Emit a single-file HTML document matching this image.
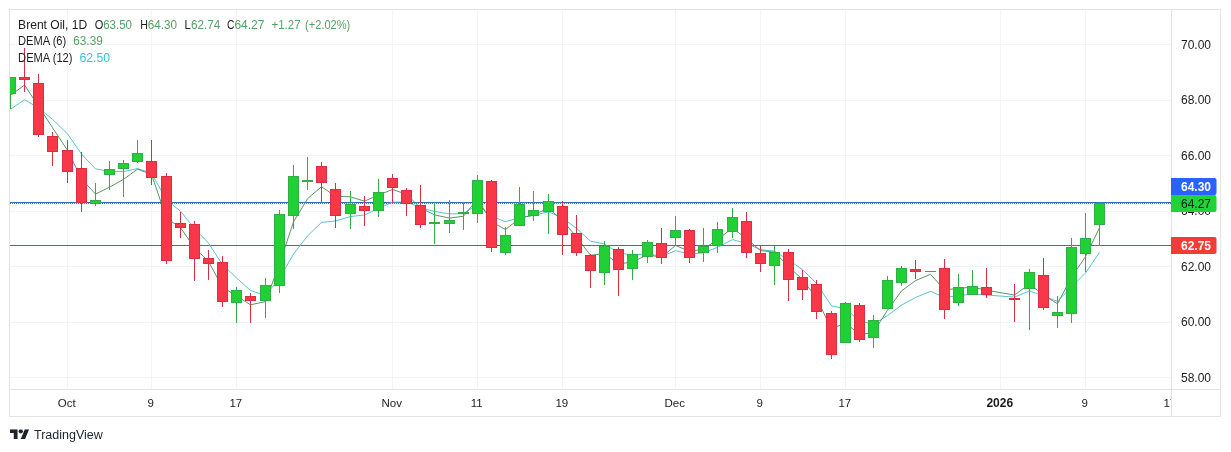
<!DOCTYPE html><html><head><meta charset="utf-8"><title>Brent Oil</title><style>html,body{margin:0;padding:0;background:#fff;overflow:hidden}body{width:1231px;height:452px;position:relative}</style></head><body><svg width="1231" height="452" viewBox="0 0 1231 452" style="position:absolute;left:0;top:0" shape-rendering="crispEdges" font-family="'Liberation Sans', Arial, sans-serif">
<rect x="0" y="0" width="1231" height="452" fill="#fff"/>
<rect x="10" y="44" width="1161" height="1" fill="#f4f4f6"/>
<rect x="10" y="100" width="1161" height="1" fill="#f4f4f6"/>
<rect x="10" y="155" width="1161" height="1" fill="#f4f4f6"/>
<rect x="10" y="211" width="1161" height="1" fill="#f4f4f6"/>
<rect x="10" y="266" width="1161" height="1" fill="#f4f4f6"/>
<rect x="10" y="322" width="1161" height="1" fill="#f4f4f6"/>
<rect x="10" y="377" width="1161" height="1" fill="#f4f4f6"/>
<rect x="67" y="10" width="1" height="379" fill="#f4f4f6"/>
<rect x="151" y="10" width="1" height="379" fill="#f4f4f6"/>
<rect x="236" y="10" width="1" height="379" fill="#f4f4f6"/>
<rect x="392" y="10" width="1" height="379" fill="#f4f4f6"/>
<rect x="477" y="10" width="1" height="379" fill="#f4f4f6"/>
<rect x="562" y="10" width="1" height="379" fill="#f4f4f6"/>
<rect x="675" y="10" width="1" height="379" fill="#f4f4f6"/>
<rect x="760" y="10" width="1" height="379" fill="#f4f4f6"/>
<rect x="845" y="10" width="1" height="379" fill="#f4f4f6"/>
<rect x="1000" y="10" width="1" height="379" fill="#f4f4f6"/>
<rect x="1085" y="10" width="1" height="379" fill="#f4f4f6"/>
<rect x="9" y="9" width="1212" height="1" fill="#e4e4e6"/>
<rect x="9" y="416" width="1212" height="1" fill="#e4e4e6"/>
<rect x="9" y="9" width="1" height="408" fill="#e4e4e6"/>
<rect x="1220" y="9" width="1" height="408" fill="#e4e4e6"/>
<rect x="1171" y="9" width="1" height="408" fill="#e4e4e6"/>
<rect x="9" y="389" width="1212" height="1" fill="#e4e4e6"/>
<clipPath id="cp"><rect x="10" y="10" width="1161" height="379"/></clipPath>
<g clip-path="url(#cp)">
<rect x="10" y="245" width="1161" height="1" fill="#d8383c"/>
<rect x="10" y="202" width="1161" height="1" fill="#2f6fc0"/>
<rect x="10" y="203" width="1" height="1" fill="#2a9d6a"/><rect x="12" y="203" width="1" height="1" fill="#2a9d6a"/><rect x="14" y="203" width="1" height="1" fill="#2a9d6a"/><rect x="16" y="203" width="1" height="1" fill="#2a9d6a"/><rect x="18" y="203" width="1" height="1" fill="#2a9d6a"/><rect x="20" y="203" width="1" height="1" fill="#2a9d6a"/><rect x="22" y="203" width="1" height="1" fill="#2a9d6a"/><rect x="24" y="203" width="1" height="1" fill="#2a9d6a"/><rect x="26" y="203" width="1" height="1" fill="#2a9d6a"/><rect x="28" y="203" width="1" height="1" fill="#2a9d6a"/><rect x="30" y="203" width="1" height="1" fill="#2a9d6a"/><rect x="32" y="203" width="1" height="1" fill="#2a9d6a"/><rect x="34" y="203" width="1" height="1" fill="#2a9d6a"/><rect x="36" y="203" width="1" height="1" fill="#2a9d6a"/><rect x="38" y="203" width="1" height="1" fill="#2a9d6a"/><rect x="40" y="203" width="1" height="1" fill="#2a9d6a"/><rect x="42" y="203" width="1" height="1" fill="#2a9d6a"/><rect x="44" y="203" width="1" height="1" fill="#2a9d6a"/><rect x="46" y="203" width="1" height="1" fill="#2a9d6a"/><rect x="48" y="203" width="1" height="1" fill="#2a9d6a"/><rect x="50" y="203" width="1" height="1" fill="#2a9d6a"/><rect x="52" y="203" width="1" height="1" fill="#2a9d6a"/><rect x="54" y="203" width="1" height="1" fill="#2a9d6a"/><rect x="56" y="203" width="1" height="1" fill="#2a9d6a"/><rect x="58" y="203" width="1" height="1" fill="#2a9d6a"/><rect x="60" y="203" width="1" height="1" fill="#2a9d6a"/><rect x="62" y="203" width="1" height="1" fill="#2a9d6a"/><rect x="64" y="203" width="1" height="1" fill="#2a9d6a"/><rect x="66" y="203" width="1" height="1" fill="#2a9d6a"/><rect x="68" y="203" width="1" height="1" fill="#2a9d6a"/><rect x="70" y="203" width="1" height="1" fill="#2a9d6a"/><rect x="72" y="203" width="1" height="1" fill="#2a9d6a"/><rect x="74" y="203" width="1" height="1" fill="#2a9d6a"/><rect x="76" y="203" width="1" height="1" fill="#2a9d6a"/><rect x="78" y="203" width="1" height="1" fill="#2a9d6a"/><rect x="80" y="203" width="1" height="1" fill="#2a9d6a"/><rect x="82" y="203" width="1" height="1" fill="#2a9d6a"/><rect x="84" y="203" width="1" height="1" fill="#2a9d6a"/><rect x="86" y="203" width="1" height="1" fill="#2a9d6a"/><rect x="88" y="203" width="1" height="1" fill="#2a9d6a"/><rect x="90" y="203" width="1" height="1" fill="#2a9d6a"/><rect x="92" y="203" width="1" height="1" fill="#2a9d6a"/><rect x="94" y="203" width="1" height="1" fill="#2a9d6a"/><rect x="96" y="203" width="1" height="1" fill="#2a9d6a"/><rect x="98" y="203" width="1" height="1" fill="#2a9d6a"/><rect x="100" y="203" width="1" height="1" fill="#2a9d6a"/><rect x="102" y="203" width="1" height="1" fill="#2a9d6a"/><rect x="104" y="203" width="1" height="1" fill="#2a9d6a"/><rect x="106" y="203" width="1" height="1" fill="#2a9d6a"/><rect x="108" y="203" width="1" height="1" fill="#2a9d6a"/><rect x="110" y="203" width="1" height="1" fill="#2a9d6a"/><rect x="112" y="203" width="1" height="1" fill="#2a9d6a"/><rect x="114" y="203" width="1" height="1" fill="#2a9d6a"/><rect x="116" y="203" width="1" height="1" fill="#2a9d6a"/><rect x="118" y="203" width="1" height="1" fill="#2a9d6a"/><rect x="120" y="203" width="1" height="1" fill="#2a9d6a"/><rect x="122" y="203" width="1" height="1" fill="#2a9d6a"/><rect x="124" y="203" width="1" height="1" fill="#2a9d6a"/><rect x="126" y="203" width="1" height="1" fill="#2a9d6a"/><rect x="128" y="203" width="1" height="1" fill="#2a9d6a"/><rect x="130" y="203" width="1" height="1" fill="#2a9d6a"/><rect x="132" y="203" width="1" height="1" fill="#2a9d6a"/><rect x="134" y="203" width="1" height="1" fill="#2a9d6a"/><rect x="136" y="203" width="1" height="1" fill="#2a9d6a"/><rect x="138" y="203" width="1" height="1" fill="#2a9d6a"/><rect x="140" y="203" width="1" height="1" fill="#2a9d6a"/><rect x="142" y="203" width="1" height="1" fill="#2a9d6a"/><rect x="144" y="203" width="1" height="1" fill="#2a9d6a"/><rect x="146" y="203" width="1" height="1" fill="#2a9d6a"/><rect x="148" y="203" width="1" height="1" fill="#2a9d6a"/><rect x="150" y="203" width="1" height="1" fill="#2a9d6a"/><rect x="152" y="203" width="1" height="1" fill="#2a9d6a"/><rect x="154" y="203" width="1" height="1" fill="#2a9d6a"/><rect x="156" y="203" width="1" height="1" fill="#2a9d6a"/><rect x="158" y="203" width="1" height="1" fill="#2a9d6a"/><rect x="160" y="203" width="1" height="1" fill="#2a9d6a"/><rect x="162" y="203" width="1" height="1" fill="#2a9d6a"/><rect x="164" y="203" width="1" height="1" fill="#2a9d6a"/><rect x="166" y="203" width="1" height="1" fill="#2a9d6a"/><rect x="168" y="203" width="1" height="1" fill="#2a9d6a"/><rect x="170" y="203" width="1" height="1" fill="#2a9d6a"/><rect x="172" y="203" width="1" height="1" fill="#2a9d6a"/><rect x="174" y="203" width="1" height="1" fill="#2a9d6a"/><rect x="176" y="203" width="1" height="1" fill="#2a9d6a"/><rect x="178" y="203" width="1" height="1" fill="#2a9d6a"/><rect x="180" y="203" width="1" height="1" fill="#2a9d6a"/><rect x="182" y="203" width="1" height="1" fill="#2a9d6a"/><rect x="184" y="203" width="1" height="1" fill="#2a9d6a"/><rect x="186" y="203" width="1" height="1" fill="#2a9d6a"/><rect x="188" y="203" width="1" height="1" fill="#2a9d6a"/><rect x="190" y="203" width="1" height="1" fill="#2a9d6a"/><rect x="192" y="203" width="1" height="1" fill="#2a9d6a"/><rect x="194" y="203" width="1" height="1" fill="#2a9d6a"/><rect x="196" y="203" width="1" height="1" fill="#2a9d6a"/><rect x="198" y="203" width="1" height="1" fill="#2a9d6a"/><rect x="200" y="203" width="1" height="1" fill="#2a9d6a"/><rect x="202" y="203" width="1" height="1" fill="#2a9d6a"/><rect x="204" y="203" width="1" height="1" fill="#2a9d6a"/><rect x="206" y="203" width="1" height="1" fill="#2a9d6a"/><rect x="208" y="203" width="1" height="1" fill="#2a9d6a"/><rect x="210" y="203" width="1" height="1" fill="#2a9d6a"/><rect x="212" y="203" width="1" height="1" fill="#2a9d6a"/><rect x="214" y="203" width="1" height="1" fill="#2a9d6a"/><rect x="216" y="203" width="1" height="1" fill="#2a9d6a"/><rect x="218" y="203" width="1" height="1" fill="#2a9d6a"/><rect x="220" y="203" width="1" height="1" fill="#2a9d6a"/><rect x="222" y="203" width="1" height="1" fill="#2a9d6a"/><rect x="224" y="203" width="1" height="1" fill="#2a9d6a"/><rect x="226" y="203" width="1" height="1" fill="#2a9d6a"/><rect x="228" y="203" width="1" height="1" fill="#2a9d6a"/><rect x="230" y="203" width="1" height="1" fill="#2a9d6a"/><rect x="232" y="203" width="1" height="1" fill="#2a9d6a"/><rect x="234" y="203" width="1" height="1" fill="#2a9d6a"/><rect x="236" y="203" width="1" height="1" fill="#2a9d6a"/><rect x="238" y="203" width="1" height="1" fill="#2a9d6a"/><rect x="240" y="203" width="1" height="1" fill="#2a9d6a"/><rect x="242" y="203" width="1" height="1" fill="#2a9d6a"/><rect x="244" y="203" width="1" height="1" fill="#2a9d6a"/><rect x="246" y="203" width="1" height="1" fill="#2a9d6a"/><rect x="248" y="203" width="1" height="1" fill="#2a9d6a"/><rect x="250" y="203" width="1" height="1" fill="#2a9d6a"/><rect x="252" y="203" width="1" height="1" fill="#2a9d6a"/><rect x="254" y="203" width="1" height="1" fill="#2a9d6a"/><rect x="256" y="203" width="1" height="1" fill="#2a9d6a"/><rect x="258" y="203" width="1" height="1" fill="#2a9d6a"/><rect x="260" y="203" width="1" height="1" fill="#2a9d6a"/><rect x="262" y="203" width="1" height="1" fill="#2a9d6a"/><rect x="264" y="203" width="1" height="1" fill="#2a9d6a"/><rect x="266" y="203" width="1" height="1" fill="#2a9d6a"/><rect x="268" y="203" width="1" height="1" fill="#2a9d6a"/><rect x="270" y="203" width="1" height="1" fill="#2a9d6a"/><rect x="272" y="203" width="1" height="1" fill="#2a9d6a"/><rect x="274" y="203" width="1" height="1" fill="#2a9d6a"/><rect x="276" y="203" width="1" height="1" fill="#2a9d6a"/><rect x="278" y="203" width="1" height="1" fill="#2a9d6a"/><rect x="280" y="203" width="1" height="1" fill="#2a9d6a"/><rect x="282" y="203" width="1" height="1" fill="#2a9d6a"/><rect x="284" y="203" width="1" height="1" fill="#2a9d6a"/><rect x="286" y="203" width="1" height="1" fill="#2a9d6a"/><rect x="288" y="203" width="1" height="1" fill="#2a9d6a"/><rect x="290" y="203" width="1" height="1" fill="#2a9d6a"/><rect x="292" y="203" width="1" height="1" fill="#2a9d6a"/><rect x="294" y="203" width="1" height="1" fill="#2a9d6a"/><rect x="296" y="203" width="1" height="1" fill="#2a9d6a"/><rect x="298" y="203" width="1" height="1" fill="#2a9d6a"/><rect x="300" y="203" width="1" height="1" fill="#2a9d6a"/><rect x="302" y="203" width="1" height="1" fill="#2a9d6a"/><rect x="304" y="203" width="1" height="1" fill="#2a9d6a"/><rect x="306" y="203" width="1" height="1" fill="#2a9d6a"/><rect x="308" y="203" width="1" height="1" fill="#2a9d6a"/><rect x="310" y="203" width="1" height="1" fill="#2a9d6a"/><rect x="312" y="203" width="1" height="1" fill="#2a9d6a"/><rect x="314" y="203" width="1" height="1" fill="#2a9d6a"/><rect x="316" y="203" width="1" height="1" fill="#2a9d6a"/><rect x="318" y="203" width="1" height="1" fill="#2a9d6a"/><rect x="320" y="203" width="1" height="1" fill="#2a9d6a"/><rect x="322" y="203" width="1" height="1" fill="#2a9d6a"/><rect x="324" y="203" width="1" height="1" fill="#2a9d6a"/><rect x="326" y="203" width="1" height="1" fill="#2a9d6a"/><rect x="328" y="203" width="1" height="1" fill="#2a9d6a"/><rect x="330" y="203" width="1" height="1" fill="#2a9d6a"/><rect x="332" y="203" width="1" height="1" fill="#2a9d6a"/><rect x="334" y="203" width="1" height="1" fill="#2a9d6a"/><rect x="336" y="203" width="1" height="1" fill="#2a9d6a"/><rect x="338" y="203" width="1" height="1" fill="#2a9d6a"/><rect x="340" y="203" width="1" height="1" fill="#2a9d6a"/><rect x="342" y="203" width="1" height="1" fill="#2a9d6a"/><rect x="344" y="203" width="1" height="1" fill="#2a9d6a"/><rect x="346" y="203" width="1" height="1" fill="#2a9d6a"/><rect x="348" y="203" width="1" height="1" fill="#2a9d6a"/><rect x="350" y="203" width="1" height="1" fill="#2a9d6a"/><rect x="352" y="203" width="1" height="1" fill="#2a9d6a"/><rect x="354" y="203" width="1" height="1" fill="#2a9d6a"/><rect x="356" y="203" width="1" height="1" fill="#2a9d6a"/><rect x="358" y="203" width="1" height="1" fill="#2a9d6a"/><rect x="360" y="203" width="1" height="1" fill="#2a9d6a"/><rect x="362" y="203" width="1" height="1" fill="#2a9d6a"/><rect x="364" y="203" width="1" height="1" fill="#2a9d6a"/><rect x="366" y="203" width="1" height="1" fill="#2a9d6a"/><rect x="368" y="203" width="1" height="1" fill="#2a9d6a"/><rect x="370" y="203" width="1" height="1" fill="#2a9d6a"/><rect x="372" y="203" width="1" height="1" fill="#2a9d6a"/><rect x="374" y="203" width="1" height="1" fill="#2a9d6a"/><rect x="376" y="203" width="1" height="1" fill="#2a9d6a"/><rect x="378" y="203" width="1" height="1" fill="#2a9d6a"/><rect x="380" y="203" width="1" height="1" fill="#2a9d6a"/><rect x="382" y="203" width="1" height="1" fill="#2a9d6a"/><rect x="384" y="203" width="1" height="1" fill="#2a9d6a"/><rect x="386" y="203" width="1" height="1" fill="#2a9d6a"/><rect x="388" y="203" width="1" height="1" fill="#2a9d6a"/><rect x="390" y="203" width="1" height="1" fill="#2a9d6a"/><rect x="392" y="203" width="1" height="1" fill="#2a9d6a"/><rect x="394" y="203" width="1" height="1" fill="#2a9d6a"/><rect x="396" y="203" width="1" height="1" fill="#2a9d6a"/><rect x="398" y="203" width="1" height="1" fill="#2a9d6a"/><rect x="400" y="203" width="1" height="1" fill="#2a9d6a"/><rect x="402" y="203" width="1" height="1" fill="#2a9d6a"/><rect x="404" y="203" width="1" height="1" fill="#2a9d6a"/><rect x="406" y="203" width="1" height="1" fill="#2a9d6a"/><rect x="408" y="203" width="1" height="1" fill="#2a9d6a"/><rect x="410" y="203" width="1" height="1" fill="#2a9d6a"/><rect x="412" y="203" width="1" height="1" fill="#2a9d6a"/><rect x="414" y="203" width="1" height="1" fill="#2a9d6a"/><rect x="416" y="203" width="1" height="1" fill="#2a9d6a"/><rect x="418" y="203" width="1" height="1" fill="#2a9d6a"/><rect x="420" y="203" width="1" height="1" fill="#2a9d6a"/><rect x="422" y="203" width="1" height="1" fill="#2a9d6a"/><rect x="424" y="203" width="1" height="1" fill="#2a9d6a"/><rect x="426" y="203" width="1" height="1" fill="#2a9d6a"/><rect x="428" y="203" width="1" height="1" fill="#2a9d6a"/><rect x="430" y="203" width="1" height="1" fill="#2a9d6a"/><rect x="432" y="203" width="1" height="1" fill="#2a9d6a"/><rect x="434" y="203" width="1" height="1" fill="#2a9d6a"/><rect x="436" y="203" width="1" height="1" fill="#2a9d6a"/><rect x="438" y="203" width="1" height="1" fill="#2a9d6a"/><rect x="440" y="203" width="1" height="1" fill="#2a9d6a"/><rect x="442" y="203" width="1" height="1" fill="#2a9d6a"/><rect x="444" y="203" width="1" height="1" fill="#2a9d6a"/><rect x="446" y="203" width="1" height="1" fill="#2a9d6a"/><rect x="448" y="203" width="1" height="1" fill="#2a9d6a"/><rect x="450" y="203" width="1" height="1" fill="#2a9d6a"/><rect x="452" y="203" width="1" height="1" fill="#2a9d6a"/><rect x="454" y="203" width="1" height="1" fill="#2a9d6a"/><rect x="456" y="203" width="1" height="1" fill="#2a9d6a"/><rect x="458" y="203" width="1" height="1" fill="#2a9d6a"/><rect x="460" y="203" width="1" height="1" fill="#2a9d6a"/><rect x="462" y="203" width="1" height="1" fill="#2a9d6a"/><rect x="464" y="203" width="1" height="1" fill="#2a9d6a"/><rect x="466" y="203" width="1" height="1" fill="#2a9d6a"/><rect x="468" y="203" width="1" height="1" fill="#2a9d6a"/><rect x="470" y="203" width="1" height="1" fill="#2a9d6a"/><rect x="472" y="203" width="1" height="1" fill="#2a9d6a"/><rect x="474" y="203" width="1" height="1" fill="#2a9d6a"/><rect x="476" y="203" width="1" height="1" fill="#2a9d6a"/><rect x="478" y="203" width="1" height="1" fill="#2a9d6a"/><rect x="480" y="203" width="1" height="1" fill="#2a9d6a"/><rect x="482" y="203" width="1" height="1" fill="#2a9d6a"/><rect x="484" y="203" width="1" height="1" fill="#2a9d6a"/><rect x="486" y="203" width="1" height="1" fill="#2a9d6a"/><rect x="488" y="203" width="1" height="1" fill="#2a9d6a"/><rect x="490" y="203" width="1" height="1" fill="#2a9d6a"/><rect x="492" y="203" width="1" height="1" fill="#2a9d6a"/><rect x="494" y="203" width="1" height="1" fill="#2a9d6a"/><rect x="496" y="203" width="1" height="1" fill="#2a9d6a"/><rect x="498" y="203" width="1" height="1" fill="#2a9d6a"/><rect x="500" y="203" width="1" height="1" fill="#2a9d6a"/><rect x="502" y="203" width="1" height="1" fill="#2a9d6a"/><rect x="504" y="203" width="1" height="1" fill="#2a9d6a"/><rect x="506" y="203" width="1" height="1" fill="#2a9d6a"/><rect x="508" y="203" width="1" height="1" fill="#2a9d6a"/><rect x="510" y="203" width="1" height="1" fill="#2a9d6a"/><rect x="512" y="203" width="1" height="1" fill="#2a9d6a"/><rect x="514" y="203" width="1" height="1" fill="#2a9d6a"/><rect x="516" y="203" width="1" height="1" fill="#2a9d6a"/><rect x="518" y="203" width="1" height="1" fill="#2a9d6a"/><rect x="520" y="203" width="1" height="1" fill="#2a9d6a"/><rect x="522" y="203" width="1" height="1" fill="#2a9d6a"/><rect x="524" y="203" width="1" height="1" fill="#2a9d6a"/><rect x="526" y="203" width="1" height="1" fill="#2a9d6a"/><rect x="528" y="203" width="1" height="1" fill="#2a9d6a"/><rect x="530" y="203" width="1" height="1" fill="#2a9d6a"/><rect x="532" y="203" width="1" height="1" fill="#2a9d6a"/><rect x="534" y="203" width="1" height="1" fill="#2a9d6a"/><rect x="536" y="203" width="1" height="1" fill="#2a9d6a"/><rect x="538" y="203" width="1" height="1" fill="#2a9d6a"/><rect x="540" y="203" width="1" height="1" fill="#2a9d6a"/><rect x="542" y="203" width="1" height="1" fill="#2a9d6a"/><rect x="544" y="203" width="1" height="1" fill="#2a9d6a"/><rect x="546" y="203" width="1" height="1" fill="#2a9d6a"/><rect x="548" y="203" width="1" height="1" fill="#2a9d6a"/><rect x="550" y="203" width="1" height="1" fill="#2a9d6a"/><rect x="552" y="203" width="1" height="1" fill="#2a9d6a"/><rect x="554" y="203" width="1" height="1" fill="#2a9d6a"/><rect x="556" y="203" width="1" height="1" fill="#2a9d6a"/><rect x="558" y="203" width="1" height="1" fill="#2a9d6a"/><rect x="560" y="203" width="1" height="1" fill="#2a9d6a"/><rect x="562" y="203" width="1" height="1" fill="#2a9d6a"/><rect x="564" y="203" width="1" height="1" fill="#2a9d6a"/><rect x="566" y="203" width="1" height="1" fill="#2a9d6a"/><rect x="568" y="203" width="1" height="1" fill="#2a9d6a"/><rect x="570" y="203" width="1" height="1" fill="#2a9d6a"/><rect x="572" y="203" width="1" height="1" fill="#2a9d6a"/><rect x="574" y="203" width="1" height="1" fill="#2a9d6a"/><rect x="576" y="203" width="1" height="1" fill="#2a9d6a"/><rect x="578" y="203" width="1" height="1" fill="#2a9d6a"/><rect x="580" y="203" width="1" height="1" fill="#2a9d6a"/><rect x="582" y="203" width="1" height="1" fill="#2a9d6a"/><rect x="584" y="203" width="1" height="1" fill="#2a9d6a"/><rect x="586" y="203" width="1" height="1" fill="#2a9d6a"/><rect x="588" y="203" width="1" height="1" fill="#2a9d6a"/><rect x="590" y="203" width="1" height="1" fill="#2a9d6a"/><rect x="592" y="203" width="1" height="1" fill="#2a9d6a"/><rect x="594" y="203" width="1" height="1" fill="#2a9d6a"/><rect x="596" y="203" width="1" height="1" fill="#2a9d6a"/><rect x="598" y="203" width="1" height="1" fill="#2a9d6a"/><rect x="600" y="203" width="1" height="1" fill="#2a9d6a"/><rect x="602" y="203" width="1" height="1" fill="#2a9d6a"/><rect x="604" y="203" width="1" height="1" fill="#2a9d6a"/><rect x="606" y="203" width="1" height="1" fill="#2a9d6a"/><rect x="608" y="203" width="1" height="1" fill="#2a9d6a"/><rect x="610" y="203" width="1" height="1" fill="#2a9d6a"/><rect x="612" y="203" width="1" height="1" fill="#2a9d6a"/><rect x="614" y="203" width="1" height="1" fill="#2a9d6a"/><rect x="616" y="203" width="1" height="1" fill="#2a9d6a"/><rect x="618" y="203" width="1" height="1" fill="#2a9d6a"/><rect x="620" y="203" width="1" height="1" fill="#2a9d6a"/><rect x="622" y="203" width="1" height="1" fill="#2a9d6a"/><rect x="624" y="203" width="1" height="1" fill="#2a9d6a"/><rect x="626" y="203" width="1" height="1" fill="#2a9d6a"/><rect x="628" y="203" width="1" height="1" fill="#2a9d6a"/><rect x="630" y="203" width="1" height="1" fill="#2a9d6a"/><rect x="632" y="203" width="1" height="1" fill="#2a9d6a"/><rect x="634" y="203" width="1" height="1" fill="#2a9d6a"/><rect x="636" y="203" width="1" height="1" fill="#2a9d6a"/><rect x="638" y="203" width="1" height="1" fill="#2a9d6a"/><rect x="640" y="203" width="1" height="1" fill="#2a9d6a"/><rect x="642" y="203" width="1" height="1" fill="#2a9d6a"/><rect x="644" y="203" width="1" height="1" fill="#2a9d6a"/><rect x="646" y="203" width="1" height="1" fill="#2a9d6a"/><rect x="648" y="203" width="1" height="1" fill="#2a9d6a"/><rect x="650" y="203" width="1" height="1" fill="#2a9d6a"/><rect x="652" y="203" width="1" height="1" fill="#2a9d6a"/><rect x="654" y="203" width="1" height="1" fill="#2a9d6a"/><rect x="656" y="203" width="1" height="1" fill="#2a9d6a"/><rect x="658" y="203" width="1" height="1" fill="#2a9d6a"/><rect x="660" y="203" width="1" height="1" fill="#2a9d6a"/><rect x="662" y="203" width="1" height="1" fill="#2a9d6a"/><rect x="664" y="203" width="1" height="1" fill="#2a9d6a"/><rect x="666" y="203" width="1" height="1" fill="#2a9d6a"/><rect x="668" y="203" width="1" height="1" fill="#2a9d6a"/><rect x="670" y="203" width="1" height="1" fill="#2a9d6a"/><rect x="672" y="203" width="1" height="1" fill="#2a9d6a"/><rect x="674" y="203" width="1" height="1" fill="#2a9d6a"/><rect x="676" y="203" width="1" height="1" fill="#2a9d6a"/><rect x="678" y="203" width="1" height="1" fill="#2a9d6a"/><rect x="680" y="203" width="1" height="1" fill="#2a9d6a"/><rect x="682" y="203" width="1" height="1" fill="#2a9d6a"/><rect x="684" y="203" width="1" height="1" fill="#2a9d6a"/><rect x="686" y="203" width="1" height="1" fill="#2a9d6a"/><rect x="688" y="203" width="1" height="1" fill="#2a9d6a"/><rect x="690" y="203" width="1" height="1" fill="#2a9d6a"/><rect x="692" y="203" width="1" height="1" fill="#2a9d6a"/><rect x="694" y="203" width="1" height="1" fill="#2a9d6a"/><rect x="696" y="203" width="1" height="1" fill="#2a9d6a"/><rect x="698" y="203" width="1" height="1" fill="#2a9d6a"/><rect x="700" y="203" width="1" height="1" fill="#2a9d6a"/><rect x="702" y="203" width="1" height="1" fill="#2a9d6a"/><rect x="704" y="203" width="1" height="1" fill="#2a9d6a"/><rect x="706" y="203" width="1" height="1" fill="#2a9d6a"/><rect x="708" y="203" width="1" height="1" fill="#2a9d6a"/><rect x="710" y="203" width="1" height="1" fill="#2a9d6a"/><rect x="712" y="203" width="1" height="1" fill="#2a9d6a"/><rect x="714" y="203" width="1" height="1" fill="#2a9d6a"/><rect x="716" y="203" width="1" height="1" fill="#2a9d6a"/><rect x="718" y="203" width="1" height="1" fill="#2a9d6a"/><rect x="720" y="203" width="1" height="1" fill="#2a9d6a"/><rect x="722" y="203" width="1" height="1" fill="#2a9d6a"/><rect x="724" y="203" width="1" height="1" fill="#2a9d6a"/><rect x="726" y="203" width="1" height="1" fill="#2a9d6a"/><rect x="728" y="203" width="1" height="1" fill="#2a9d6a"/><rect x="730" y="203" width="1" height="1" fill="#2a9d6a"/><rect x="732" y="203" width="1" height="1" fill="#2a9d6a"/><rect x="734" y="203" width="1" height="1" fill="#2a9d6a"/><rect x="736" y="203" width="1" height="1" fill="#2a9d6a"/><rect x="738" y="203" width="1" height="1" fill="#2a9d6a"/><rect x="740" y="203" width="1" height="1" fill="#2a9d6a"/><rect x="742" y="203" width="1" height="1" fill="#2a9d6a"/><rect x="744" y="203" width="1" height="1" fill="#2a9d6a"/><rect x="746" y="203" width="1" height="1" fill="#2a9d6a"/><rect x="748" y="203" width="1" height="1" fill="#2a9d6a"/><rect x="750" y="203" width="1" height="1" fill="#2a9d6a"/><rect x="752" y="203" width="1" height="1" fill="#2a9d6a"/><rect x="754" y="203" width="1" height="1" fill="#2a9d6a"/><rect x="756" y="203" width="1" height="1" fill="#2a9d6a"/><rect x="758" y="203" width="1" height="1" fill="#2a9d6a"/><rect x="760" y="203" width="1" height="1" fill="#2a9d6a"/><rect x="762" y="203" width="1" height="1" fill="#2a9d6a"/><rect x="764" y="203" width="1" height="1" fill="#2a9d6a"/><rect x="766" y="203" width="1" height="1" fill="#2a9d6a"/><rect x="768" y="203" width="1" height="1" fill="#2a9d6a"/><rect x="770" y="203" width="1" height="1" fill="#2a9d6a"/><rect x="772" y="203" width="1" height="1" fill="#2a9d6a"/><rect x="774" y="203" width="1" height="1" fill="#2a9d6a"/><rect x="776" y="203" width="1" height="1" fill="#2a9d6a"/><rect x="778" y="203" width="1" height="1" fill="#2a9d6a"/><rect x="780" y="203" width="1" height="1" fill="#2a9d6a"/><rect x="782" y="203" width="1" height="1" fill="#2a9d6a"/><rect x="784" y="203" width="1" height="1" fill="#2a9d6a"/><rect x="786" y="203" width="1" height="1" fill="#2a9d6a"/><rect x="788" y="203" width="1" height="1" fill="#2a9d6a"/><rect x="790" y="203" width="1" height="1" fill="#2a9d6a"/><rect x="792" y="203" width="1" height="1" fill="#2a9d6a"/><rect x="794" y="203" width="1" height="1" fill="#2a9d6a"/><rect x="796" y="203" width="1" height="1" fill="#2a9d6a"/><rect x="798" y="203" width="1" height="1" fill="#2a9d6a"/><rect x="800" y="203" width="1" height="1" fill="#2a9d6a"/><rect x="802" y="203" width="1" height="1" fill="#2a9d6a"/><rect x="804" y="203" width="1" height="1" fill="#2a9d6a"/><rect x="806" y="203" width="1" height="1" fill="#2a9d6a"/><rect x="808" y="203" width="1" height="1" fill="#2a9d6a"/><rect x="810" y="203" width="1" height="1" fill="#2a9d6a"/><rect x="812" y="203" width="1" height="1" fill="#2a9d6a"/><rect x="814" y="203" width="1" height="1" fill="#2a9d6a"/><rect x="816" y="203" width="1" height="1" fill="#2a9d6a"/><rect x="818" y="203" width="1" height="1" fill="#2a9d6a"/><rect x="820" y="203" width="1" height="1" fill="#2a9d6a"/><rect x="822" y="203" width="1" height="1" fill="#2a9d6a"/><rect x="824" y="203" width="1" height="1" fill="#2a9d6a"/><rect x="826" y="203" width="1" height="1" fill="#2a9d6a"/><rect x="828" y="203" width="1" height="1" fill="#2a9d6a"/><rect x="830" y="203" width="1" height="1" fill="#2a9d6a"/><rect x="832" y="203" width="1" height="1" fill="#2a9d6a"/><rect x="834" y="203" width="1" height="1" fill="#2a9d6a"/><rect x="836" y="203" width="1" height="1" fill="#2a9d6a"/><rect x="838" y="203" width="1" height="1" fill="#2a9d6a"/><rect x="840" y="203" width="1" height="1" fill="#2a9d6a"/><rect x="842" y="203" width="1" height="1" fill="#2a9d6a"/><rect x="844" y="203" width="1" height="1" fill="#2a9d6a"/><rect x="846" y="203" width="1" height="1" fill="#2a9d6a"/><rect x="848" y="203" width="1" height="1" fill="#2a9d6a"/><rect x="850" y="203" width="1" height="1" fill="#2a9d6a"/><rect x="852" y="203" width="1" height="1" fill="#2a9d6a"/><rect x="854" y="203" width="1" height="1" fill="#2a9d6a"/><rect x="856" y="203" width="1" height="1" fill="#2a9d6a"/><rect x="858" y="203" width="1" height="1" fill="#2a9d6a"/><rect x="860" y="203" width="1" height="1" fill="#2a9d6a"/><rect x="862" y="203" width="1" height="1" fill="#2a9d6a"/><rect x="864" y="203" width="1" height="1" fill="#2a9d6a"/><rect x="866" y="203" width="1" height="1" fill="#2a9d6a"/><rect x="868" y="203" width="1" height="1" fill="#2a9d6a"/><rect x="870" y="203" width="1" height="1" fill="#2a9d6a"/><rect x="872" y="203" width="1" height="1" fill="#2a9d6a"/><rect x="874" y="203" width="1" height="1" fill="#2a9d6a"/><rect x="876" y="203" width="1" height="1" fill="#2a9d6a"/><rect x="878" y="203" width="1" height="1" fill="#2a9d6a"/><rect x="880" y="203" width="1" height="1" fill="#2a9d6a"/><rect x="882" y="203" width="1" height="1" fill="#2a9d6a"/><rect x="884" y="203" width="1" height="1" fill="#2a9d6a"/><rect x="886" y="203" width="1" height="1" fill="#2a9d6a"/><rect x="888" y="203" width="1" height="1" fill="#2a9d6a"/><rect x="890" y="203" width="1" height="1" fill="#2a9d6a"/><rect x="892" y="203" width="1" height="1" fill="#2a9d6a"/><rect x="894" y="203" width="1" height="1" fill="#2a9d6a"/><rect x="896" y="203" width="1" height="1" fill="#2a9d6a"/><rect x="898" y="203" width="1" height="1" fill="#2a9d6a"/><rect x="900" y="203" width="1" height="1" fill="#2a9d6a"/><rect x="902" y="203" width="1" height="1" fill="#2a9d6a"/><rect x="904" y="203" width="1" height="1" fill="#2a9d6a"/><rect x="906" y="203" width="1" height="1" fill="#2a9d6a"/><rect x="908" y="203" width="1" height="1" fill="#2a9d6a"/><rect x="910" y="203" width="1" height="1" fill="#2a9d6a"/><rect x="912" y="203" width="1" height="1" fill="#2a9d6a"/><rect x="914" y="203" width="1" height="1" fill="#2a9d6a"/><rect x="916" y="203" width="1" height="1" fill="#2a9d6a"/><rect x="918" y="203" width="1" height="1" fill="#2a9d6a"/><rect x="920" y="203" width="1" height="1" fill="#2a9d6a"/><rect x="922" y="203" width="1" height="1" fill="#2a9d6a"/><rect x="924" y="203" width="1" height="1" fill="#2a9d6a"/><rect x="926" y="203" width="1" height="1" fill="#2a9d6a"/><rect x="928" y="203" width="1" height="1" fill="#2a9d6a"/><rect x="930" y="203" width="1" height="1" fill="#2a9d6a"/><rect x="932" y="203" width="1" height="1" fill="#2a9d6a"/><rect x="934" y="203" width="1" height="1" fill="#2a9d6a"/><rect x="936" y="203" width="1" height="1" fill="#2a9d6a"/><rect x="938" y="203" width="1" height="1" fill="#2a9d6a"/><rect x="940" y="203" width="1" height="1" fill="#2a9d6a"/><rect x="942" y="203" width="1" height="1" fill="#2a9d6a"/><rect x="944" y="203" width="1" height="1" fill="#2a9d6a"/><rect x="946" y="203" width="1" height="1" fill="#2a9d6a"/><rect x="948" y="203" width="1" height="1" fill="#2a9d6a"/><rect x="950" y="203" width="1" height="1" fill="#2a9d6a"/><rect x="952" y="203" width="1" height="1" fill="#2a9d6a"/><rect x="954" y="203" width="1" height="1" fill="#2a9d6a"/><rect x="956" y="203" width="1" height="1" fill="#2a9d6a"/><rect x="958" y="203" width="1" height="1" fill="#2a9d6a"/><rect x="960" y="203" width="1" height="1" fill="#2a9d6a"/><rect x="962" y="203" width="1" height="1" fill="#2a9d6a"/><rect x="964" y="203" width="1" height="1" fill="#2a9d6a"/><rect x="966" y="203" width="1" height="1" fill="#2a9d6a"/><rect x="968" y="203" width="1" height="1" fill="#2a9d6a"/><rect x="970" y="203" width="1" height="1" fill="#2a9d6a"/><rect x="972" y="203" width="1" height="1" fill="#2a9d6a"/><rect x="974" y="203" width="1" height="1" fill="#2a9d6a"/><rect x="976" y="203" width="1" height="1" fill="#2a9d6a"/><rect x="978" y="203" width="1" height="1" fill="#2a9d6a"/><rect x="980" y="203" width="1" height="1" fill="#2a9d6a"/><rect x="982" y="203" width="1" height="1" fill="#2a9d6a"/><rect x="984" y="203" width="1" height="1" fill="#2a9d6a"/><rect x="986" y="203" width="1" height="1" fill="#2a9d6a"/><rect x="988" y="203" width="1" height="1" fill="#2a9d6a"/><rect x="990" y="203" width="1" height="1" fill="#2a9d6a"/><rect x="992" y="203" width="1" height="1" fill="#2a9d6a"/><rect x="994" y="203" width="1" height="1" fill="#2a9d6a"/><rect x="996" y="203" width="1" height="1" fill="#2a9d6a"/><rect x="998" y="203" width="1" height="1" fill="#2a9d6a"/><rect x="1000" y="203" width="1" height="1" fill="#2a9d6a"/><rect x="1002" y="203" width="1" height="1" fill="#2a9d6a"/><rect x="1004" y="203" width="1" height="1" fill="#2a9d6a"/><rect x="1006" y="203" width="1" height="1" fill="#2a9d6a"/><rect x="1008" y="203" width="1" height="1" fill="#2a9d6a"/><rect x="1010" y="203" width="1" height="1" fill="#2a9d6a"/><rect x="1012" y="203" width="1" height="1" fill="#2a9d6a"/><rect x="1014" y="203" width="1" height="1" fill="#2a9d6a"/><rect x="1016" y="203" width="1" height="1" fill="#2a9d6a"/><rect x="1018" y="203" width="1" height="1" fill="#2a9d6a"/><rect x="1020" y="203" width="1" height="1" fill="#2a9d6a"/><rect x="1022" y="203" width="1" height="1" fill="#2a9d6a"/><rect x="1024" y="203" width="1" height="1" fill="#2a9d6a"/><rect x="1026" y="203" width="1" height="1" fill="#2a9d6a"/><rect x="1028" y="203" width="1" height="1" fill="#2a9d6a"/><rect x="1030" y="203" width="1" height="1" fill="#2a9d6a"/><rect x="1032" y="203" width="1" height="1" fill="#2a9d6a"/><rect x="1034" y="203" width="1" height="1" fill="#2a9d6a"/><rect x="1036" y="203" width="1" height="1" fill="#2a9d6a"/><rect x="1038" y="203" width="1" height="1" fill="#2a9d6a"/><rect x="1040" y="203" width="1" height="1" fill="#2a9d6a"/><rect x="1042" y="203" width="1" height="1" fill="#2a9d6a"/><rect x="1044" y="203" width="1" height="1" fill="#2a9d6a"/><rect x="1046" y="203" width="1" height="1" fill="#2a9d6a"/><rect x="1048" y="203" width="1" height="1" fill="#2a9d6a"/><rect x="1050" y="203" width="1" height="1" fill="#2a9d6a"/><rect x="1052" y="203" width="1" height="1" fill="#2a9d6a"/><rect x="1054" y="203" width="1" height="1" fill="#2a9d6a"/><rect x="1056" y="203" width="1" height="1" fill="#2a9d6a"/><rect x="1058" y="203" width="1" height="1" fill="#2a9d6a"/><rect x="1060" y="203" width="1" height="1" fill="#2a9d6a"/><rect x="1062" y="203" width="1" height="1" fill="#2a9d6a"/><rect x="1064" y="203" width="1" height="1" fill="#2a9d6a"/><rect x="1066" y="203" width="1" height="1" fill="#2a9d6a"/><rect x="1068" y="203" width="1" height="1" fill="#2a9d6a"/><rect x="1070" y="203" width="1" height="1" fill="#2a9d6a"/><rect x="1072" y="203" width="1" height="1" fill="#2a9d6a"/><rect x="1074" y="203" width="1" height="1" fill="#2a9d6a"/><rect x="1076" y="203" width="1" height="1" fill="#2a9d6a"/><rect x="1078" y="203" width="1" height="1" fill="#2a9d6a"/><rect x="1080" y="203" width="1" height="1" fill="#2a9d6a"/><rect x="1082" y="203" width="1" height="1" fill="#2a9d6a"/><rect x="1084" y="203" width="1" height="1" fill="#2a9d6a"/><rect x="1086" y="203" width="1" height="1" fill="#2a9d6a"/><rect x="1088" y="203" width="1" height="1" fill="#2a9d6a"/><rect x="1090" y="203" width="1" height="1" fill="#2a9d6a"/><rect x="1092" y="203" width="1" height="1" fill="#2a9d6a"/><rect x="1094" y="203" width="1" height="1" fill="#2a9d6a"/><rect x="1096" y="203" width="1" height="1" fill="#2a9d6a"/><rect x="1098" y="203" width="1" height="1" fill="#2a9d6a"/><rect x="1100" y="203" width="1" height="1" fill="#2a9d6a"/><rect x="1102" y="203" width="1" height="1" fill="#2a9d6a"/><rect x="1104" y="203" width="1" height="1" fill="#2a9d6a"/><rect x="1106" y="203" width="1" height="1" fill="#2a9d6a"/><rect x="1108" y="203" width="1" height="1" fill="#2a9d6a"/><rect x="1110" y="203" width="1" height="1" fill="#2a9d6a"/><rect x="1112" y="203" width="1" height="1" fill="#2a9d6a"/><rect x="1114" y="203" width="1" height="1" fill="#2a9d6a"/><rect x="1116" y="203" width="1" height="1" fill="#2a9d6a"/><rect x="1118" y="203" width="1" height="1" fill="#2a9d6a"/><rect x="1120" y="203" width="1" height="1" fill="#2a9d6a"/><rect x="1122" y="203" width="1" height="1" fill="#2a9d6a"/><rect x="1124" y="203" width="1" height="1" fill="#2a9d6a"/><rect x="1126" y="203" width="1" height="1" fill="#2a9d6a"/><rect x="1128" y="203" width="1" height="1" fill="#2a9d6a"/><rect x="1130" y="203" width="1" height="1" fill="#2a9d6a"/><rect x="1132" y="203" width="1" height="1" fill="#2a9d6a"/><rect x="1134" y="203" width="1" height="1" fill="#2a9d6a"/><rect x="1136" y="203" width="1" height="1" fill="#2a9d6a"/><rect x="1138" y="203" width="1" height="1" fill="#2a9d6a"/><rect x="1140" y="203" width="1" height="1" fill="#2a9d6a"/><rect x="1142" y="203" width="1" height="1" fill="#2a9d6a"/><rect x="1144" y="203" width="1" height="1" fill="#2a9d6a"/><rect x="1146" y="203" width="1" height="1" fill="#2a9d6a"/><rect x="1148" y="203" width="1" height="1" fill="#2a9d6a"/><rect x="1150" y="203" width="1" height="1" fill="#2a9d6a"/><rect x="1152" y="203" width="1" height="1" fill="#2a9d6a"/><rect x="1154" y="203" width="1" height="1" fill="#2a9d6a"/><rect x="1156" y="203" width="1" height="1" fill="#2a9d6a"/><rect x="1158" y="203" width="1" height="1" fill="#2a9d6a"/><rect x="1160" y="203" width="1" height="1" fill="#2a9d6a"/><rect x="1162" y="203" width="1" height="1" fill="#2a9d6a"/><rect x="1164" y="203" width="1" height="1" fill="#2a9d6a"/><rect x="1166" y="203" width="1" height="1" fill="#2a9d6a"/><rect x="1168" y="203" width="1" height="1" fill="#2a9d6a"/><rect x="1170" y="203" width="1" height="1" fill="#2a9d6a"/>
<polyline points="10.5,109.2 24.5,99.7 38.5,107.9 52.5,119.3 67.5,133.9 81.5,154.0 95.5,168.9 109.5,171.4 123.5,171.6 137.5,168.6 151.5,173.1 166.5,200.0 180.5,211.2 194.5,228.5 208.5,243.1 222.5,264.7 236.5,277.9 250.5,290.5 265.5,295.4 279.5,278.5 293.5,254.1 307.5,235.9 321.5,222.4 335.5,221.0 350.5,216.5 364.5,215.0 378.5,208.5 392.5,202.2 406.5,201.9 420.5,207.7 434.5,211.5 449.5,213.9 463.5,213.7 477.5,204.3 491.5,216.1 505.5,221.8 519.5,217.4 533.5,215.6 548.5,211.7 562.5,218.1 576.5,228.3 590.5,241.2 604.5,244.0 618.5,252.9 632.5,255.2 647.5,253.6 661.5,256.4 675.5,250.7 689.5,254.0 703.5,252.9 717.5,247.3 732.5,239.6 746.5,243.5 760.5,249.7 774.5,251.2 788.5,260.0 802.5,269.7 816.5,283.3 831.5,305.9 845.5,308.7 859.5,320.9 873.5,324.4 887.5,315.5 901.5,305.1 915.5,297.5 930.5,291.3 944.5,297.4 958.5,295.7 972.5,294.0 986.5,295.0 1014.5,297.1 1029.5,290.9 1043.5,296.0 1057.5,301.3 1071.5,286.9 1085.5,273.0 1099.5,252.4" fill="none" stroke="#42bdcc" stroke-width="0.9" shape-rendering="auto" stroke-linejoin="round"/>
<polyline points="10.5,95.3 24.5,85.1 38.5,106.2 52.5,127.7 67.5,150.3 81.5,178.8 95.5,194.1 109.5,187.2 123.5,179.4 137.5,169.1 151.5,174.5 166.5,218.2 180.5,227.7 194.5,247.7 208.5,261.5 222.5,287.2 236.5,295.9 250.5,304.8 265.5,301.6 279.5,263.9 293.5,221.9 307.5,198.7 321.5,186.7 335.5,196.3 350.5,196.8 364.5,201.2 378.5,195.0 392.5,189.5 406.5,194.3 420.5,207.9 434.5,214.9 449.5,218.1 463.5,216.2 477.5,199.1 491.5,221.8 505.5,229.5 519.5,218.5 533.5,214.9 548.5,208.2 562.5,220.5 576.5,236.9 590.5,255.3 604.5,253.6 618.5,263.9 632.5,262.1 647.5,254.7 661.5,257.4 675.5,245.4 689.5,251.4 703.5,249.1 717.5,239.6 732.5,228.1 746.5,238.7 760.5,250.6 774.5,252.2 788.5,266.4 802.5,279.6 816.5,297.9 831.5,329.3 845.5,322.4 859.5,335.1 873.5,332.1 887.5,310.2 901.5,290.9 915.5,280.6 930.5,274.3 944.5,289.8 958.5,288.4 972.5,287.1 986.5,290.3 1014.5,295.0 1029.5,284.1 1043.5,295.0 1057.5,303.8 1071.5,277.2 1085.5,256.7 1099.5,227.7" fill="none" stroke="#4a8a4e" stroke-width="0.9" shape-rendering="auto" stroke-linejoin="round"/>
<rect x="10" y="77" width="1" height="32" fill="#2fae45"/>
<rect x="5" y="77" width="11" height="17" fill="#2fae45"/>
<rect x="6" y="78" width="9" height="15" fill="#20d035"/>
<rect x="24" y="48" width="1" height="44" fill="#d82f45"/>
<rect x="19" y="77" width="11" height="3" fill="#d82f45"/>
<rect x="20" y="78" width="9" height="1" fill="#f83848"/>
<rect x="38" y="74" width="1" height="63" fill="#d82f45"/>
<rect x="33" y="83" width="11" height="52" fill="#d82f45"/>
<rect x="34" y="84" width="9" height="50" fill="#f83848"/>
<rect x="52" y="132" width="1" height="34" fill="#d82f45"/>
<rect x="47" y="136" width="11" height="16" fill="#d82f45"/>
<rect x="48" y="137" width="9" height="14" fill="#f83848"/>
<rect x="67" y="140" width="1" height="43" fill="#d82f45"/>
<rect x="62" y="150" width="11" height="22" fill="#d82f45"/>
<rect x="63" y="151" width="9" height="20" fill="#f83848"/>
<rect x="81" y="152" width="1" height="60" fill="#d82f45"/>
<rect x="76" y="168" width="11" height="35" fill="#d82f45"/>
<rect x="77" y="169" width="9" height="33" fill="#f83848"/>
<rect x="95" y="183" width="1" height="23" fill="#2fae45"/>
<rect x="90" y="200" width="11" height="4" fill="#2fae45"/>
<rect x="91" y="201" width="9" height="2" fill="#20d035"/>
<rect x="109" y="161" width="1" height="29" fill="#2fae45"/>
<rect x="104" y="169" width="11" height="6" fill="#2fae45"/>
<rect x="105" y="170" width="9" height="4" fill="#20d035"/>
<rect x="123" y="160" width="1" height="37" fill="#2fae45"/>
<rect x="118" y="163" width="11" height="6" fill="#2fae45"/>
<rect x="119" y="164" width="9" height="4" fill="#20d035"/>
<rect x="137" y="140" width="1" height="23" fill="#2fae45"/>
<rect x="132" y="153" width="11" height="9" fill="#2fae45"/>
<rect x="133" y="154" width="9" height="7" fill="#20d035"/>
<rect x="151" y="140" width="1" height="45" fill="#d82f45"/>
<rect x="146" y="161" width="11" height="17" fill="#d82f45"/>
<rect x="147" y="162" width="9" height="15" fill="#f83848"/>
<rect x="166" y="173" width="1" height="91" fill="#d82f45"/>
<rect x="161" y="176" width="11" height="85" fill="#d82f45"/>
<rect x="162" y="177" width="9" height="83" fill="#f83848"/>
<rect x="180" y="212" width="1" height="26" fill="#d82f45"/>
<rect x="175" y="223" width="11" height="5" fill="#d82f45"/>
<rect x="176" y="224" width="9" height="3" fill="#f83848"/>
<rect x="194" y="221" width="1" height="60" fill="#d82f45"/>
<rect x="189" y="224" width="11" height="35" fill="#d82f45"/>
<rect x="190" y="225" width="9" height="33" fill="#f83848"/>
<rect x="208" y="250" width="1" height="30" fill="#d82f45"/>
<rect x="203" y="258" width="11" height="6" fill="#d82f45"/>
<rect x="204" y="259" width="9" height="4" fill="#f83848"/>
<rect x="222" y="256" width="1" height="51" fill="#d82f45"/>
<rect x="217" y="262" width="11" height="40" fill="#d82f45"/>
<rect x="218" y="263" width="9" height="38" fill="#f83848"/>
<rect x="236" y="287" width="1" height="36" fill="#2fae45"/>
<rect x="231" y="290" width="11" height="13" fill="#2fae45"/>
<rect x="232" y="291" width="9" height="11" fill="#20d035"/>
<rect x="250" y="293" width="1" height="30" fill="#d82f45"/>
<rect x="245" y="296" width="11" height="5" fill="#d82f45"/>
<rect x="246" y="297" width="9" height="3" fill="#f83848"/>
<rect x="265" y="278" width="1" height="40" fill="#2fae45"/>
<rect x="260" y="285" width="11" height="16" fill="#2fae45"/>
<rect x="261" y="286" width="9" height="14" fill="#20d035"/>
<rect x="279" y="210" width="1" height="83" fill="#2fae45"/>
<rect x="274" y="214" width="11" height="72" fill="#2fae45"/>
<rect x="275" y="215" width="9" height="70" fill="#20d035"/>
<rect x="293" y="165" width="1" height="64" fill="#2fae45"/>
<rect x="288" y="176" width="11" height="40" fill="#2fae45"/>
<rect x="289" y="177" width="9" height="38" fill="#20d035"/>
<rect x="307" y="157" width="1" height="33" fill="#2fae45"/>
<rect x="302" y="180" width="11" height="2" fill="#2fae45"/>
<rect x="321" y="162" width="1" height="41" fill="#d82f45"/>
<rect x="316" y="166" width="11" height="17" fill="#d82f45"/>
<rect x="317" y="167" width="9" height="15" fill="#f83848"/>
<rect x="335" y="183" width="1" height="45" fill="#d82f45"/>
<rect x="330" y="189" width="11" height="27" fill="#d82f45"/>
<rect x="331" y="190" width="9" height="25" fill="#f83848"/>
<rect x="350" y="191" width="1" height="38" fill="#2fae45"/>
<rect x="345" y="204" width="11" height="10" fill="#2fae45"/>
<rect x="346" y="205" width="9" height="8" fill="#20d035"/>
<rect x="364" y="196" width="1" height="30" fill="#d82f45"/>
<rect x="359" y="206" width="11" height="5" fill="#d82f45"/>
<rect x="360" y="207" width="9" height="3" fill="#f83848"/>
<rect x="378" y="179" width="1" height="38" fill="#2fae45"/>
<rect x="373" y="192" width="11" height="19" fill="#2fae45"/>
<rect x="374" y="193" width="9" height="17" fill="#20d035"/>
<rect x="392" y="174" width="1" height="29" fill="#d82f45"/>
<rect x="387" y="178" width="11" height="10" fill="#d82f45"/>
<rect x="388" y="179" width="9" height="8" fill="#f83848"/>
<rect x="406" y="188" width="1" height="28" fill="#d82f45"/>
<rect x="401" y="190" width="11" height="14" fill="#d82f45"/>
<rect x="402" y="191" width="9" height="12" fill="#f83848"/>
<rect x="420" y="185" width="1" height="43" fill="#d82f45"/>
<rect x="415" y="205" width="11" height="20" fill="#d82f45"/>
<rect x="416" y="206" width="9" height="18" fill="#f83848"/>
<rect x="434" y="202" width="1" height="42" fill="#2fae45"/>
<rect x="429" y="222" width="11" height="2" fill="#2fae45"/>
<rect x="449" y="200" width="1" height="33" fill="#2fae45"/>
<rect x="444" y="220" width="11" height="4" fill="#2fae45"/>
<rect x="445" y="221" width="9" height="2" fill="#20d035"/>
<rect x="463" y="202" width="1" height="28" fill="#2fae45"/>
<rect x="458" y="212" width="11" height="2" fill="#2fae45"/>
<rect x="477" y="175" width="1" height="48" fill="#2fae45"/>
<rect x="472" y="180" width="11" height="34" fill="#2fae45"/>
<rect x="473" y="181" width="9" height="32" fill="#20d035"/>
<rect x="491" y="180" width="1" height="72" fill="#d82f45"/>
<rect x="486" y="181" width="11" height="67" fill="#d82f45"/>
<rect x="487" y="182" width="9" height="65" fill="#f83848"/>
<rect x="505" y="227" width="1" height="28" fill="#2fae45"/>
<rect x="500" y="235" width="11" height="18" fill="#2fae45"/>
<rect x="501" y="236" width="9" height="16" fill="#20d035"/>
<rect x="519" y="187" width="1" height="39" fill="#2fae45"/>
<rect x="514" y="204" width="11" height="22" fill="#2fae45"/>
<rect x="515" y="205" width="9" height="20" fill="#20d035"/>
<rect x="533" y="191" width="1" height="30" fill="#2fae45"/>
<rect x="528" y="210" width="11" height="6" fill="#2fae45"/>
<rect x="529" y="211" width="9" height="4" fill="#20d035"/>
<rect x="548" y="194" width="1" height="40" fill="#2fae45"/>
<rect x="543" y="201" width="11" height="11" fill="#2fae45"/>
<rect x="544" y="202" width="9" height="9" fill="#20d035"/>
<rect x="562" y="201" width="1" height="54" fill="#d82f45"/>
<rect x="557" y="206" width="11" height="29" fill="#d82f45"/>
<rect x="558" y="207" width="9" height="27" fill="#f83848"/>
<rect x="576" y="215" width="1" height="41" fill="#d82f45"/>
<rect x="571" y="233" width="11" height="20" fill="#d82f45"/>
<rect x="572" y="234" width="9" height="18" fill="#f83848"/>
<rect x="590" y="254" width="1" height="34" fill="#d82f45"/>
<rect x="585" y="255" width="11" height="16" fill="#d82f45"/>
<rect x="586" y="256" width="9" height="14" fill="#f83848"/>
<rect x="604" y="241" width="1" height="44" fill="#2fae45"/>
<rect x="599" y="246" width="11" height="27" fill="#2fae45"/>
<rect x="600" y="247" width="9" height="25" fill="#20d035"/>
<rect x="618" y="247" width="1" height="49" fill="#d82f45"/>
<rect x="613" y="249" width="11" height="21" fill="#d82f45"/>
<rect x="614" y="250" width="9" height="19" fill="#f83848"/>
<rect x="632" y="250" width="1" height="30" fill="#2fae45"/>
<rect x="627" y="254" width="11" height="15" fill="#2fae45"/>
<rect x="628" y="255" width="9" height="13" fill="#20d035"/>
<rect x="647" y="240" width="1" height="23" fill="#2fae45"/>
<rect x="642" y="242" width="11" height="15" fill="#2fae45"/>
<rect x="643" y="243" width="9" height="13" fill="#20d035"/>
<rect x="661" y="228" width="1" height="36" fill="#d82f45"/>
<rect x="656" y="243" width="11" height="15" fill="#d82f45"/>
<rect x="657" y="244" width="9" height="13" fill="#f83848"/>
<rect x="675" y="216" width="1" height="30" fill="#2fae45"/>
<rect x="670" y="230" width="11" height="8" fill="#2fae45"/>
<rect x="671" y="231" width="9" height="6" fill="#20d035"/>
<rect x="689" y="229" width="1" height="34" fill="#d82f45"/>
<rect x="684" y="230" width="11" height="28" fill="#d82f45"/>
<rect x="685" y="231" width="9" height="26" fill="#f83848"/>
<rect x="703" y="228" width="1" height="34" fill="#2fae45"/>
<rect x="698" y="246" width="11" height="7" fill="#2fae45"/>
<rect x="699" y="247" width="9" height="5" fill="#20d035"/>
<rect x="717" y="222" width="1" height="31" fill="#2fae45"/>
<rect x="712" y="229" width="11" height="17" fill="#2fae45"/>
<rect x="713" y="230" width="9" height="15" fill="#20d035"/>
<rect x="732" y="208" width="1" height="30" fill="#2fae45"/>
<rect x="727" y="217" width="11" height="15" fill="#2fae45"/>
<rect x="728" y="218" width="9" height="13" fill="#20d035"/>
<rect x="746" y="212" width="1" height="46" fill="#d82f45"/>
<rect x="741" y="221" width="11" height="32" fill="#d82f45"/>
<rect x="742" y="222" width="9" height="30" fill="#f83848"/>
<rect x="760" y="246" width="1" height="26" fill="#d82f45"/>
<rect x="755" y="253" width="11" height="11" fill="#d82f45"/>
<rect x="756" y="254" width="9" height="9" fill="#f83848"/>
<rect x="774" y="246" width="1" height="39" fill="#2fae45"/>
<rect x="769" y="252" width="11" height="14" fill="#2fae45"/>
<rect x="770" y="253" width="9" height="12" fill="#20d035"/>
<rect x="788" y="249" width="1" height="52" fill="#d82f45"/>
<rect x="783" y="252" width="11" height="28" fill="#d82f45"/>
<rect x="784" y="253" width="9" height="26" fill="#f83848"/>
<rect x="802" y="270" width="1" height="30" fill="#d82f45"/>
<rect x="797" y="277" width="11" height="13" fill="#d82f45"/>
<rect x="798" y="278" width="9" height="11" fill="#f83848"/>
<rect x="816" y="280" width="1" height="39" fill="#d82f45"/>
<rect x="811" y="284" width="11" height="28" fill="#d82f45"/>
<rect x="812" y="285" width="9" height="26" fill="#f83848"/>
<rect x="831" y="311" width="1" height="48" fill="#d82f45"/>
<rect x="826" y="313" width="11" height="42" fill="#d82f45"/>
<rect x="827" y="314" width="9" height="40" fill="#f83848"/>
<rect x="845" y="302" width="1" height="41" fill="#2fae45"/>
<rect x="840" y="303" width="11" height="40" fill="#2fae45"/>
<rect x="841" y="304" width="9" height="38" fill="#20d035"/>
<rect x="859" y="303" width="1" height="39" fill="#d82f45"/>
<rect x="854" y="305" width="11" height="35" fill="#d82f45"/>
<rect x="855" y="306" width="9" height="33" fill="#f83848"/>
<rect x="873" y="315" width="1" height="33" fill="#2fae45"/>
<rect x="868" y="320" width="11" height="18" fill="#2fae45"/>
<rect x="869" y="321" width="9" height="16" fill="#20d035"/>
<rect x="887" y="276" width="1" height="33" fill="#2fae45"/>
<rect x="882" y="280" width="11" height="29" fill="#2fae45"/>
<rect x="883" y="281" width="9" height="27" fill="#20d035"/>
<rect x="901" y="266" width="1" height="20" fill="#2fae45"/>
<rect x="896" y="268" width="11" height="15" fill="#2fae45"/>
<rect x="897" y="269" width="9" height="13" fill="#20d035"/>
<rect x="915" y="260" width="1" height="19" fill="#d82f45"/>
<rect x="910" y="269" width="11" height="3" fill="#d82f45"/>
<rect x="911" y="270" width="9" height="1" fill="#f83848"/>
<rect x="930" y="271" width="1" height="1" fill="#2fae45"/>
<rect x="925" y="271" width="11" height="1" fill="#2fae45"/>
<rect x="944" y="259" width="1" height="60" fill="#d82f45"/>
<rect x="939" y="268" width="11" height="42" fill="#d82f45"/>
<rect x="940" y="269" width="9" height="40" fill="#f83848"/>
<rect x="958" y="274" width="1" height="32" fill="#2fae45"/>
<rect x="953" y="287" width="11" height="16" fill="#2fae45"/>
<rect x="954" y="288" width="9" height="14" fill="#20d035"/>
<rect x="972" y="270" width="1" height="25" fill="#2fae45"/>
<rect x="967" y="286" width="11" height="9" fill="#2fae45"/>
<rect x="968" y="287" width="9" height="7" fill="#20d035"/>
<rect x="986" y="268" width="1" height="30" fill="#d82f45"/>
<rect x="981" y="287" width="11" height="8" fill="#d82f45"/>
<rect x="982" y="288" width="9" height="6" fill="#f83848"/>
<rect x="1014" y="284" width="1" height="38" fill="#d82f45"/>
<rect x="1009" y="298" width="11" height="2" fill="#d82f45"/>
<rect x="1029" y="269" width="1" height="61" fill="#2fae45"/>
<rect x="1024" y="272" width="11" height="17" fill="#2fae45"/>
<rect x="1025" y="273" width="9" height="15" fill="#20d035"/>
<rect x="1043" y="258" width="1" height="52" fill="#d82f45"/>
<rect x="1038" y="275" width="11" height="33" fill="#d82f45"/>
<rect x="1039" y="276" width="9" height="31" fill="#f83848"/>
<rect x="1057" y="296" width="1" height="32" fill="#2fae45"/>
<rect x="1052" y="312" width="11" height="4" fill="#2fae45"/>
<rect x="1053" y="313" width="9" height="2" fill="#20d035"/>
<rect x="1071" y="238" width="1" height="85" fill="#2fae45"/>
<rect x="1066" y="247" width="11" height="67" fill="#2fae45"/>
<rect x="1067" y="248" width="9" height="65" fill="#20d035"/>
<rect x="1085" y="213" width="1" height="59" fill="#2fae45"/>
<rect x="1080" y="238" width="11" height="16" fill="#2fae45"/>
<rect x="1081" y="239" width="9" height="14" fill="#20d035"/>
<rect x="1099" y="202" width="1" height="44" fill="#2fae45"/>
<rect x="1094" y="203" width="11" height="22" fill="#2fae45"/>
<rect x="1095" y="204" width="9" height="20" fill="#20d035"/>
</g>
<text x="1181" y="48.6" font-size="12" fill="#1c1c1c" shape-rendering="auto">70.00</text>
<text x="1181" y="104.1" font-size="12" fill="#1c1c1c" shape-rendering="auto">68.00</text>
<text x="1181" y="159.7" font-size="12" fill="#1c1c1c" shape-rendering="auto">66.00</text>
<text x="1181" y="215.2" font-size="12" fill="#1c1c1c" shape-rendering="auto">64.00</text>
<text x="1181" y="270.8" font-size="12" fill="#1c1c1c" shape-rendering="auto">62.00</text>
<text x="1181" y="326.3" font-size="12" fill="#1c1c1c" shape-rendering="auto">60.00</text>
<text x="1181" y="381.8" font-size="12" fill="#1c1c1c" shape-rendering="auto">58.00</text>
<path d="M1171 195h43.5a2 2 0 0 1 2 2v13a2 2 0 0 1 -2 2h-43.5z" fill="#21d238" shape-rendering="auto"/>
<text x="1181" y="207.8" font-size="12" fill="#0a1a0a" shape-rendering="auto">64.27</text>
<path d="M1171 178h43.5a2 2 0 0 1 2 2v13a2 2 0 0 1 -2 2h-43.5z" fill="#2962ff" shape-rendering="auto"/>
<text x="1181" y="190.8" font-size="12" font-weight="bold" fill="#fff" shape-rendering="auto">64.30</text>
<path d="M1171 237h43.5a2 2 0 0 1 2 2v13a2 2 0 0 1 -2 2h-43.5z" fill="#f23d36" shape-rendering="auto"/>
<text x="1181" y="249.8" font-size="12" font-weight="bold" fill="#fff" shape-rendering="auto">62.75</text>
<clipPath id="cp2"><rect x="10" y="390" width="1161" height="26"/></clipPath><g clip-path="url(#cp2)">
<text x="66.8" y="407" font-size="11.5" text-anchor="middle" fill="#1c1c1c" shape-rendering="auto">Oct</text>
<text x="150.8" y="407" font-size="11.5" text-anchor="middle" fill="#1c1c1c" shape-rendering="auto">9</text>
<text x="235.8" y="407" font-size="11.5" text-anchor="middle" fill="#1c1c1c" shape-rendering="auto">17</text>
<text x="391.8" y="407" font-size="11.5" text-anchor="middle" fill="#1c1c1c" shape-rendering="auto">Nov</text>
<text x="476.8" y="407" font-size="11.5" text-anchor="middle" fill="#1c1c1c" shape-rendering="auto">11</text>
<text x="561.8" y="407" font-size="11.5" text-anchor="middle" fill="#1c1c1c" shape-rendering="auto">19</text>
<text x="674.8" y="407" font-size="11.5" text-anchor="middle" fill="#1c1c1c" shape-rendering="auto">Dec</text>
<text x="759.8" y="407" font-size="11.5" text-anchor="middle" fill="#1c1c1c" shape-rendering="auto">9</text>
<text x="844.8" y="407" font-size="11.5" text-anchor="middle" fill="#1c1c1c" shape-rendering="auto">17</text>
<text x="999.8" y="407" font-size="12" text-anchor="middle" font-weight="bold" fill="#1c1c1c" shape-rendering="auto">2026</text>
<text x="1084.8" y="407" font-size="11.5" text-anchor="middle" fill="#1c1c1c" shape-rendering="auto">9</text>
<text x="1169.8" y="407" font-size="11.5" text-anchor="middle" fill="#1c1c1c" shape-rendering="auto">17</text>
</g>
<text x="18.1" y="28.8" font-size="12" fill="#1c1c1c" textLength="69.1" lengthAdjust="spacingAndGlyphs" shape-rendering="auto">Brent Oil, 1D</text>
<text x="94.8" y="28.8" font-size="12" fill="#1c1c1c" textLength="8.6" lengthAdjust="spacingAndGlyphs" shape-rendering="auto">O</text>
<text x="103.2" y="28.8" font-size="12" fill="#55a063" textLength="28.8" lengthAdjust="spacingAndGlyphs" shape-rendering="auto">63.50</text>
<text x="140.2" y="28.8" font-size="12" fill="#1c1c1c" textLength="7.7" lengthAdjust="spacingAndGlyphs" shape-rendering="auto">H</text>
<text x="147.8" y="28.8" font-size="12" fill="#55a063" textLength="29.3" lengthAdjust="spacingAndGlyphs" shape-rendering="auto">64.30</text>
<text x="184.4" y="28.8" font-size="12" fill="#1c1c1c" textLength="6.2" lengthAdjust="spacingAndGlyphs" shape-rendering="auto">L</text>
<text x="191.0" y="28.8" font-size="12" fill="#55a063" textLength="29.2" lengthAdjust="spacingAndGlyphs" shape-rendering="auto">62.74</text>
<text x="227.1" y="28.8" font-size="12" fill="#1c1c1c" textLength="7.4" lengthAdjust="spacingAndGlyphs" shape-rendering="auto">C</text>
<text x="234.4" y="28.8" font-size="12" fill="#55a063" textLength="30.1" lengthAdjust="spacingAndGlyphs" shape-rendering="auto">64.27</text>
<text x="271.4" y="28.8" font-size="12" fill="#55a063" textLength="29.2" lengthAdjust="spacingAndGlyphs" shape-rendering="auto">+1.27</text>
<text x="305.1" y="28.8" font-size="12" fill="#55a063" textLength="45.2" lengthAdjust="spacingAndGlyphs" shape-rendering="auto">(+2.02%)</text>
<text x="18.1" y="45.4" font-size="12" fill="#1c1c1c" textLength="48.1" lengthAdjust="spacingAndGlyphs" shape-rendering="auto">DEMA (6)</text>
<text x="73.2" y="45.4" font-size="12" fill="#55a063" textLength="29.6" lengthAdjust="spacingAndGlyphs" shape-rendering="auto">63.39</text>
<text x="18.1" y="62.4" font-size="12" fill="#1c1c1c" textLength="54.4" lengthAdjust="spacingAndGlyphs" shape-rendering="auto">DEMA (12)</text>
<text x="79.5" y="62.4" font-size="12" fill="#3cc0d8" textLength="30.6" lengthAdjust="spacingAndGlyphs" shape-rendering="auto">62.50</text>
<svg x="10" y="429.2" width="19.4" height="9.7" viewBox="0 4 36 18" shape-rendering="auto"><path d="M14 22H7V11H0V4h14v18z" fill="#1e222d"/><path d="M28 22h-8l7.5-18h8L28 22z" fill="#1e222d"/><circle cx="20" cy="8" r="4" fill="#1e222d"/></svg>
<text x="34" y="438.7" font-size="12.5" fill="#1e222d" shape-rendering="auto">TradingView</text>
</svg></body></html>
